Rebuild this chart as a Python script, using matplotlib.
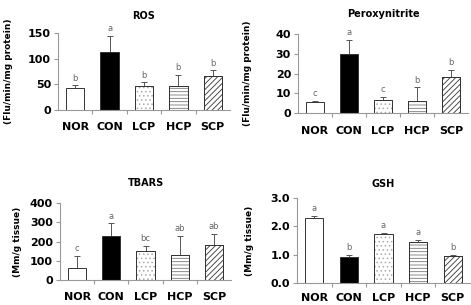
import matplotlib
matplotlib.use("Agg")
import matplotlib.pyplot as plt
import numpy as np

plt.rcParams['font.family'] = ['DejaVu Sans']
plt.rcParams['hatch.linewidth'] = 0.6

groups = ["NOR", "CON", "LCP", "HCP", "SCP"]

ros_vals = [42, 113, 46, 47, 66]
ros_err = [6, 31, 8, 22, 11]
ros_letters = ["b", "a", "b", "b", "b"]

per_vals = [5.5, 30, 6.5, 6, 18]
per_err = [0.5, 7, 1.5, 7, 4]
per_letters = ["c", "a", "c", "b", "b"]

tba_vals = [60, 230, 152, 130, 180]
tba_err = [65, 65, 25, 98, 58]
tba_letters = ["c", "a", "bc", "ab", "ab"]

gsh_vals = [2.28, 0.93, 1.72, 1.46, 0.97]
gsh_err = [0.08, 0.05, 0.06, 0.06, 0.03]
gsh_letters = ["a", "b", "a", "a", "b"]

W, H = 471, 305
fig = plt.figure(figsize=(W / 100, H / 100), dpi=100)

def rect(l, r, t, b):
    return [l / W, 1 - b / H, (r - l) / W, (b - t) / H]

faces = ["white", "black", "white", "white", "white"]
hatches = [None, None, "....", "-----", "//////"]
hcolors = ["#333333", "#000000", "#aaaaaa", "#777777", "#333333"]

def panel(r, vals, errs, letters, title, ylabel, ymax, yticks, yfmt, lpad, tpad, xpad):
    ax = fig.add_axes(r)
    x = np.arange(len(groups))
    for i in range(len(groups)):
        b = ax.bar(x[i], vals[i], width=0.53, color=faces[i], edgecolor="#333333",
                   linewidth=0.7, hatch=hatches[i], zorder=2)
        if hatches[i]:
            b[0].set_edgecolor(hcolors[i])
            ax.bar(x[i], vals[i], width=0.53, color="none", edgecolor="#333333",
                   linewidth=0.7, zorder=3)
        ax.errorbar(x[i], vals[i], yerr=[[0], [errs[i]]], color="#555555",
                    elinewidth=0.7, capsize=2.5, capthick=0.7, zorder=1)
        ax.text(x[i], vals[i] + errs[i] + ymax * 0.035, letters[i], ha="center",
                va="bottom", fontsize=6, color="#666666")
    ax.set_xlim(-0.5, len(groups) - 0.5)
    ax.set_ylim(0, ymax)
    ax.set_yticks(yticks)
    ax.set_yticklabels([yfmt.format(v) for v in yticks], fontsize=8, fontweight="bold")
    ax.set_xticks(np.arange(len(groups) - 1) + 0.5, minor=False)
    ax.set_xticklabels([])
    ax.set_xticks(x, minor=True)
    ax.set_xticklabels(groups, minor=True, fontsize=8, fontweight="bold")
    ax.tick_params(axis="x", which="minor", length=0, pad=xpad)
    ax.tick_params(axis="x", which="major", length=3, color="#999999", direction="out")
    ax.tick_params(axis="y", length=3, color="#999999", pad=2)
    for s in ["top", "right"]:
        ax.spines[s].set_visible(False)
    for s in ["left", "bottom"]:
        ax.spines[s].set_color("#999999")
        ax.spines[s].set_linewidth(0.8)
    ax.set_title(title, fontsize=7, fontweight="bold", pad=tpad)
    ax.set_ylabel(ylabel, fontsize=6.5, fontweight="bold", labelpad=lpad)
    return ax

panel(rect(58, 230, 33, 110), ros_vals, ros_err, ros_letters, "ROS",
      "(Flu/min/mg protein)", 150, [0, 50, 100, 150], "{:d}", 10.5, 10, 9)
panel(rect(298, 468, 34, 113), per_vals, per_err, per_letters, "Peroxynitrite",
      "(Flu/min/mg protein)", 40, [0, 10, 20, 30, 40], "{:d}", 17, 12, 9)
panel(rect(60, 231, 203, 280), tba_vals, tba_err, tba_letters, "TBARS",
      "(Mm/g tissue)", 400, [0, 100, 200, 300, 400], "{:d}", 6, 12, 9)
panel(rect(297, 470, 198, 283), gsh_vals, gsh_err, gsh_letters, "GSH",
      "(Mm/g tissue)", 3.0, [0.0, 1.0, 2.0, 3.0], "{:.1f}", 12, 8, 7)

fig.savefig("out.png", dpi=100)
